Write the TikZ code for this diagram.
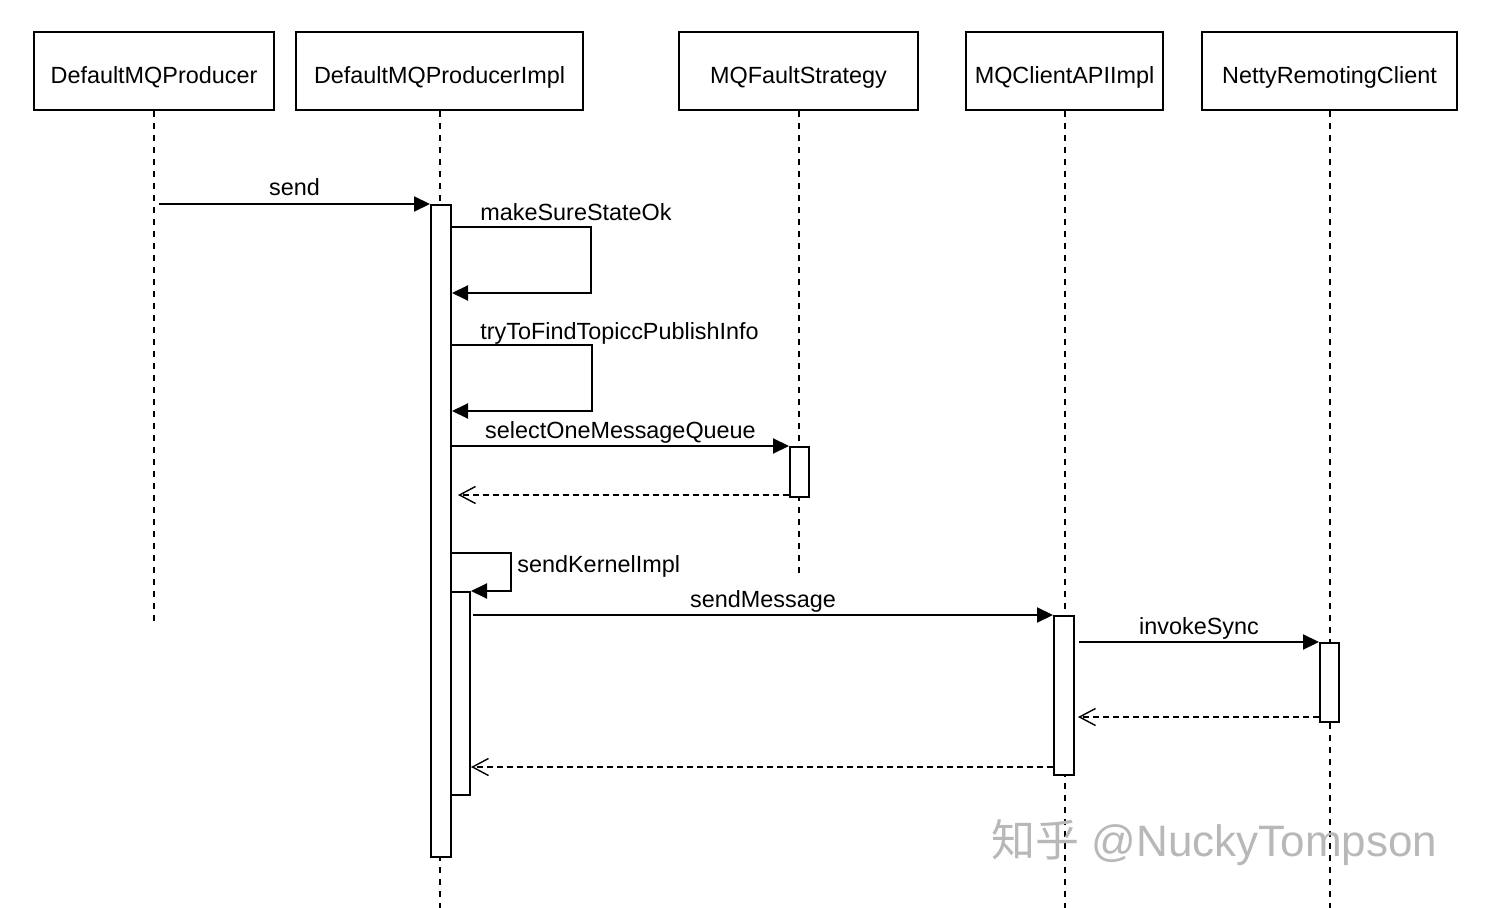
\documentclass[tikz,border=0pt]{standalone}
\usepackage{fontspec}
\setmainfont{Liberation Sans}
\newfontfamily\cjk{Noto Sans CJK SC}
\usetikzlibrary{arrows.meta}
\newcommand\fs{\fontsize{11.7}{14}\selectfont}
\begin{document}
\begin{tikzpicture}[x=0.5pt,y=-0.5pt,
  hdr/.style={draw, line width=1pt, minimum height=39pt, inner sep=0pt, text height=12.5pt, text depth=0pt, font=\fs},
  life/.style={line width=1pt, dash pattern=on 3pt off 3pt},
  actbox/.style={draw, fill=white, line width=1pt, minimum width=10pt, inner sep=0pt},
  call/.style={line width=1pt, -{Triangle[length=8pt,width=7.5pt]}},
  ret/.style={line width=0.7pt, dash pattern=on 3pt off 2pt, -{Straight Barb[length=8pt,width=8.5pt]}},
  lbl/.style={font=\fs, inner sep=0pt, anchor=base}]
\useasboundingbox (0,0) rectangle (1492,908);
% headers
\node[hdr, minimum width=120pt]   (h1) at (154,71)    {DefaultMQProducer};
\node[hdr, minimum width=143.5pt] (h2) at (439.5,71)  {DefaultMQProducerImpl};
\node[hdr, minimum width=119.5pt] (h3) at (798.5,71)  {MQFaultStrategy};
\node[hdr, minimum width=98.5pt]  (h4) at (1064.5,71) {MQClientAPIImpl};
\node[hdr, minimum width=127.5pt] (h5) at (1329.5,71) {NettyRemotingClient};
% lifeline ends
\coordinate (e1) at (154,622);
\coordinate (e2) at (439,908);
\coordinate (e3) at (799,575);
\coordinate (e4) at (1064,908);
\coordinate (e5) at (1329.5,908);
\draw[life] (h1.south) -- (h1.south |- e1);
\draw[life] (h2.south) -- (h2.south |- e2);
\draw[life] (h3.south) -- (h3.south |- e3);
\draw[life] (h4.south) -- (h4.south |- e4);
\draw[life] (h5.south) -- (h5.south |- e5);
% activations
\node[actbox, minimum height=326pt] (a2) at (441,531) {};
\node[actbox, minimum height=101.5pt, minimum width=9.5pt] (a2b) at (460.5,693.5) {};
\node[actbox, minimum height=25pt, minimum width=9.5pt] (a3) at (799.5,472) {};
\node[actbox, minimum height=79.5pt] (a4) at (1064,695.5) {};
\node[actbox, minimum height=39.5pt, minimum width=9.5pt] (a5) at (1329.5,682.5) {};
% messages
\draw[call] ([xshift=2.5pt]h1.south |- a2.north) -- (a2.north west)
  node[lbl, midway, yshift=4pt] {send};
\draw[call] (a2.east |- 0,227) -- ++(139,0) |- (a2.east |- 0,293);
\node[lbl, anchor=base west] (l1) at (480,221) {makeSureStateOk};
\draw[call] (a2.east |- 0,345) -- ++(140,0) |- (a2.east |- 0,411);
\node[lbl, anchor=base west] (l2) at (480,340) {tryToFindTopiccPublishInfo};
\draw[call] (a2.east |- a3.north) -- (a3.north west)
  node[lbl, midway, yshift=4pt] {selectOneMessageQueue};
\draw[ret] (a3.west |- 0,495) -- ([xshift=3pt]a2.east |- 0,495);
\draw[call] (a2.east |- 0,553) -- ++(59,0) |- (a2b.north east);
\node[lbl, anchor=base west] (l3) at (517,572) {sendKernelImpl};
\draw[call] ([xshift=1pt]a2b.east |- a4.north) -- (a4.north west)
  node[lbl, midway, yshift=4pt] {sendMessage};
\draw[call] ([xshift=2pt]a4.east |- a5.north) -- (a5.north west)
  node[lbl, midway, yshift=4pt] {invokeSync};
\draw[ret] (a5.west |- 0,717) -- ([xshift=1.5pt]a4.east |- 0,717);
\draw[ret] (a4.west |- 0,767) -- (a2b.east |- 0,767);
% watermark
\node[text=black!28, font=\fontsize{22}{26}\selectfont, anchor=west, inner sep=0pt] (wm) at (991,843) {{\cjk 知乎} @NuckyTompson};
\end{tikzpicture}
\end{document}
